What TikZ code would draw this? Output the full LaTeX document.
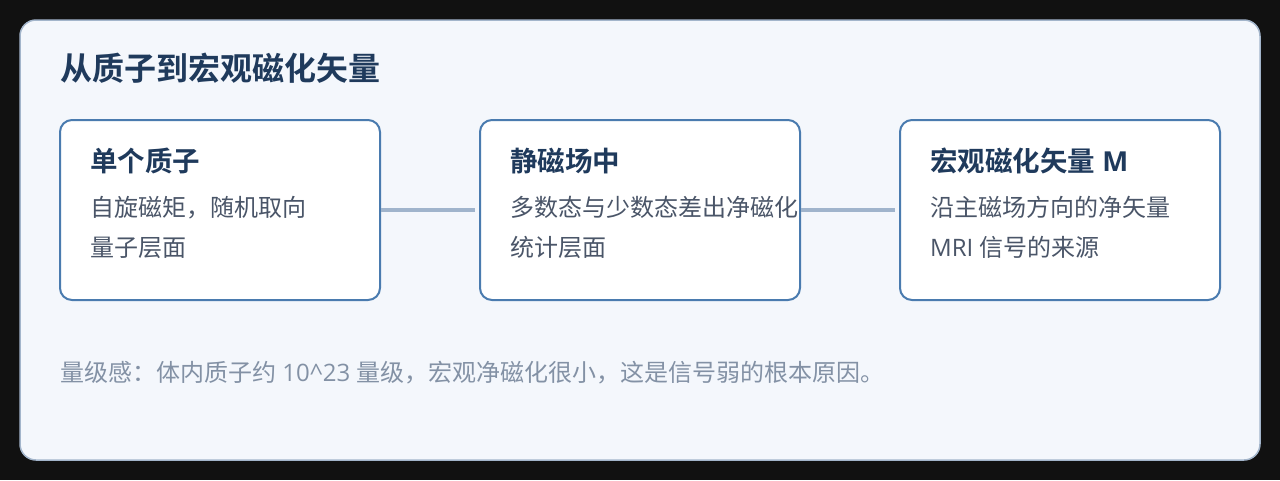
\documentclass[tikz,border=0pt]{standalone}
\usepackage{fontspec}
\setmainfont{Noto Sans CJK SC}[BoldFont={Noto Sans CJK SC Bold}]
\newfontfamily\latf{Open Sans}
\definecolor{pagebg}{HTML}{111111}
\definecolor{panelbg}{HTML}{F4F7FC}
\definecolor{panelline}{HTML}{A3B5CB}
\definecolor{boxline}{HTML}{4A7BAF}
\definecolor{titlecol}{HTML}{1F3A5C}
\definecolor{bodycol}{HTML}{4A5568}
\definecolor{notecol}{HTML}{8391A5}
\definecolor{conncol}{HTML}{A0B4CC}
\begin{document}
\begin{tikzpicture}[x=1pt,y=-1pt,
  panel/.style={draw=panelline,fill=panelbg,line width=1.5pt,rounded corners=16pt},
  card/.style={draw=boxline,fill=white,line width=2pt,rounded corners=12pt},
  maintitle/.style={anchor=base west,inner sep=0pt,text=titlecol,font=\bfseries\fontsize{32}{38}\selectfont},
  cardtitle/.style={anchor=base west,inner sep=0pt,text=titlecol,font=\bfseries\fontsize{27.5}{33}\selectfont},
  cardbody/.style={anchor=base west,inner sep=0pt,text=bodycol,font=\fontsize{24}{29}\selectfont},
  note/.style={anchor=base west,inner sep=0pt,text=notecol,font=\fontsize{24}{29}\selectfont},
  conn/.style={draw=conncol,line width=4pt}
]
\useasboundingbox (0,0) rectangle (1280,480);
\fill[pagebg] (0,0) rectangle (1280,480);
\draw[panel] (20,20) rectangle (1260,460);

\node[maintitle] (title) at (60,80) {从质子到宏观磁化矢量};

\node[card,minimum width=320pt,minimum height=180pt,inner sep=0pt] (b1) at (220,210) {};
\node[card,minimum width=320pt,minimum height=180pt,inner sep=0pt] (b2) at (640,210) {};
\node[card,minimum width=320pt,minimum height=180pt,inner sep=0pt] (b3) at (1060,210) {};

\draw[conn] (b1.east) -- ([xshift=-4pt]b2.west);
\draw[conn] (b2.east) -- ([xshift=-4pt]b3.west);

\node[cardtitle] (t1) at (90,171) {单个质子};
\node[cardbody] (l1a) at (90,216.5) {自旋磁矩，随机取向};
\node[cardbody] (l1b) at (90,256.5) {量子层面};

\node[cardtitle] (t2) at (510,171) {静磁场中};
\node[cardbody] (l2a) at (510,216.5) {多数态与少数态差出净磁化};
\node[cardbody] (l2b) at (510,256.5) {统计层面};

\node[cardtitle] (t3) at (930,171) {宏观磁化矢量{\latf\bfseries\ M}};
\node[cardbody] (l3a) at (930,216.5) {沿主磁场方向的净矢量};
\node[cardbody] (l3b) at (930,256.5) {{\latf MRI }信号的来源};

\node[note] (nt) at (60,381) {量级感：体内质子约{\latf\ 10\textasciicircum 23 }量级，宏观净磁化很小，这是信号弱的根本原因。};
\end{tikzpicture}
\end{document}
